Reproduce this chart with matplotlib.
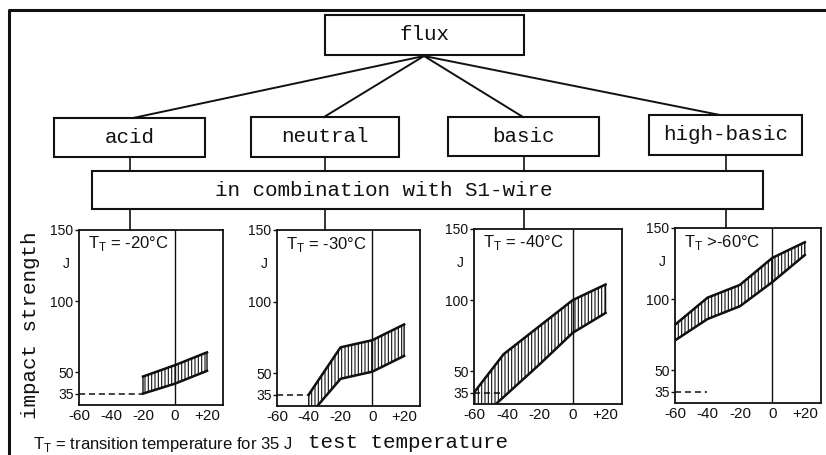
import matplotlib.pyplot as plt
from matplotlib.patches import Rectangle
from matplotlib.lines import Line2D
import matplotlib.transforms as mtransforms

# data
flux_types = ['acid', 'neutral', 'basic', 'high-basic']
transition_text = ['= -20°C', '= -30°C', '= -40°C', '>-60°C']
x_ticks = [-60, -40, -20, 0, 20]
x_tick_labels = ['-60', '-40', '-20', '0', '+20']
y_ticks = [35, 50, 100, 150]

upper_x = [[-20, 0, 20], [-40, -20, 0, 20], [-60, -42, 0, 20], [-60, -40, -20, 0, 20]]
upper_y = [[47, 55, 64], [35, 68, 73, 84], [35, 62, 100, 111], [82, 101, 110, 129, 140]]
lower_x = [[-20, 0, 20], [-40, -20, 0, 20], [-60, -20, 0, 20], [-60, -40, -20, 0, 20]]
lower_y = [[35, 42, 51], [20, 46, 51, 62], [13, 55, 77, 91], [71, 86, 95, 112, 131]]
dash_end = [-20, -39, -42, -40]   # 35 J level drawn up to here

W, H = 826, 455
plt.rcParams['hatch.linewidth'] = 0.8
mono = 'Liberation Mono'
sans = 'Liberation Sans'
ink = '#111111'

fig = plt.figure(figsize=(W / 100, H / 100), dpi=100)


def fx(x):
    return x / W


def fy(y):
    return 1 - y / H


def box(x0, y0, x1, y1, label, tx=None):
    fig.add_artist(Rectangle((fx(x0), fy(y1)), (x1 - x0) / W, (y1 - y0) / H,
                             transform=fig.transFigure, fill=False, lw=1.5, ec=ink))
    if tx is None:
        tx = (x0 + x1) / 2
    fig.text(fx(tx), fy((y0 + y1) / 2), label, ha='center', va='center',
             family=mono, fontsize=15, color=ink)


def line(xs, ys, lw=1.4):
    fig.add_artist(Line2D([fx(v) for v in xs], [fy(v) for v in ys],
                          transform=fig.transFigure, color=ink, lw=lw))


# outer frame (right and bottom run off the picture)
line([9, 9, W], [H, 10, 10], lw=2.2)

# tree of boxes
box(325, 15, 524, 55, 'flux')
cat_boxes = [(54, 118, 205, 157), (251, 117, 399, 157), (448, 117, 599, 156), (649, 115, 802, 155)]
cat_top = [133, 324, 523, 720]
drops = [130, 325, 524, 726]
for name, b, xt, xd in zip(flux_types, cat_boxes, cat_top, drops):
    box(*b, name)
    line([424, xt], [56, b[1]])
    line([xd, xd], [b[3], 171], lw=1.2)
box(92, 171, 763, 209, 'in combination with S1-wire', tx=384)

# panels
panel_pos = [(79, 405, 144, 175), (277, 406, 143, 176), (474, 404, 148, 175), (675, 403, 146, 175)]
for i in range(4):
    x0, yb, w, h = panel_pos[i]
    ax = fig.add_axes([fx(x0), 1 - yb / H, w / W, h / H])
    xc = drops[i]
    line([xc, xc], [209, yb - h], lw=1.2)

    ax.set_xlim(-60, 30)
    ax.set_ylim(27, 150)
    for s in ax.spines.values():
        s.set_linewidth(1.3)
        s.set_color(ink)
    ax.set_xticks(x_ticks)
    ax.set_xticklabels(x_tick_labels, family=sans, fontsize=11)
    ax.set_yticks(y_ticks)
    ax.set_yticklabels([str(v) for v in y_ticks], family=sans, fontsize=10)
    ax.tick_params(axis='x', length=0, pad=3, colors=ink)
    ax.tick_params(axis='y', length=3, pad=1, width=1.0, colors=ink)
    ax.axvline(0, color=ink, lw=1.0)

    tr = mtransforms.blended_transform_factory(ax.transAxes, ax.transData)
    ax.text(-0.09, 126, 'J', transform=tr, ha='center', va='center',
            family=sans, fontsize=10, color=ink)

    # hatched scatter band
    px = upper_x[i] + lower_x[i][::-1]
    py = upper_y[i] + lower_y[i][::-1]
    ax.fill(px, py, facecolor='white', edgecolor=ink, hatch='|||||', lw=1.0)
    ax.plot(upper_x[i], upper_y[i], color=ink, lw=1.8)
    ax.plot(lower_x[i], lower_y[i], color=ink, lw=1.8)

    ax.plot([-60, dash_end[i]], [35, 35], color=ink, lw=1.1, ls=(0, (4, 2.5)))

    ax.text(0.06, 0.92, r'T$_\mathregular{T}$ ' + transition_text[i],
            transform=ax.transAxes, ha='left', va='center',
            family=sans, fontsize=12, color=ink)

fig.text(fx(31), fy(325), 'impact strength', rotation=90, ha='center', va='center',
         family=mono, fontsize=15, color=ink)
fig.text(fx(33), fy(444), r'T$_\mathregular{T}$ = transition temperature for 35 J',
         ha='left', va='center', family=sans, fontsize=12, color=ink)
fig.text(fx(308), fy(442), 'test temperature', ha='left', va='center',
         family=mono, fontsize=15, color=ink)

fig.savefig('out.png', dpi=100)
